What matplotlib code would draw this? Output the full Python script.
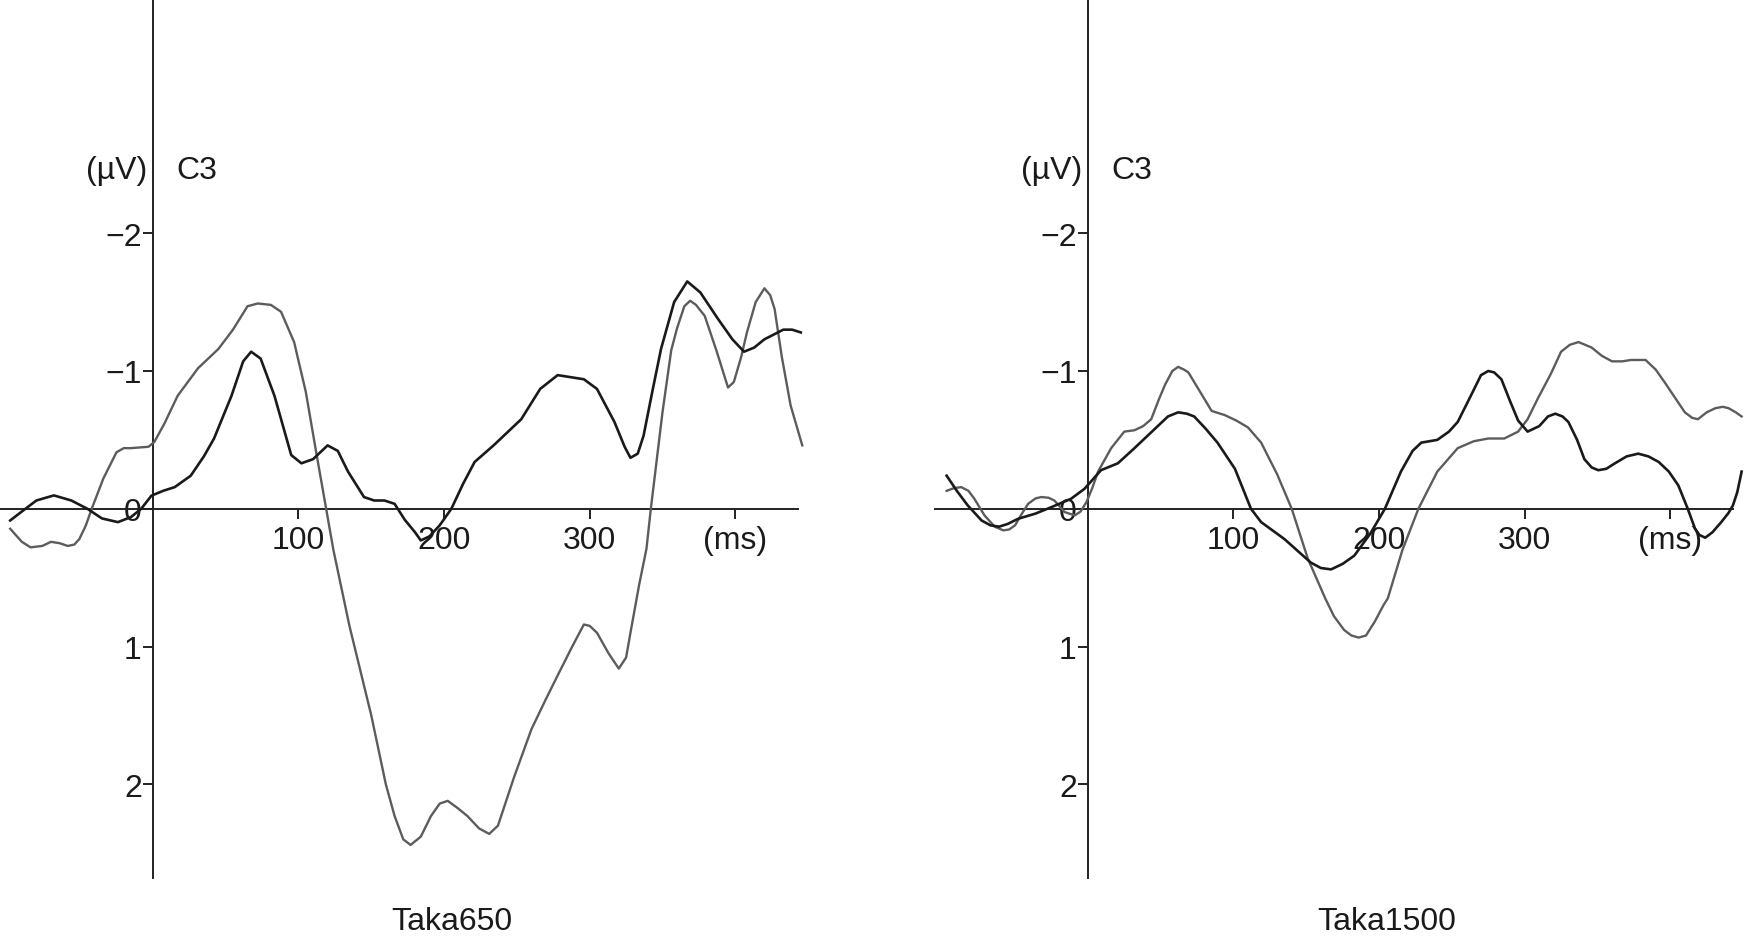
import matplotlib
matplotlib.use("Agg")
import matplotlib.pyplot as plt
import matplotlib.transforms as mtransforms

plt.rcParams['font.family'] = ['Liberation Sans Narrow', 'Liberation Sans', 'DejaVu Sans']

# ---- data (time in ms, amplitude in µV) ----
t650_black = [-98, -90, -80, -68, -56, -45, -35, -24, -15, -8, -1, 7, 15, 26, 35, 42, 54, 62, 67.5, 74,
              83.5, 95, 102, 110, 120, 127, 134, 145, 152, 159, 166, 173, 180, 184, 190, 197, 205, 213,
              221, 234, 253, 266, 278, 296, 305, 317, 324, 328, 333, 337, 343, 349, 358, 367, 376, 388,
              398, 406, 413, 420, 433, 439, 445]
v650_black = [0.085, 0.02, -0.06, -0.097, -0.06, 0.0, 0.07, 0.097, 0.06, 0.0, -0.095, -0.13, -0.157, -0.24,
              -0.38, -0.51, -0.82, -1.07, -1.14, -1.09, -0.82, -0.39, -0.33, -0.36, -0.46, -0.42, -0.27,
              -0.085, -0.06, -0.06, -0.036, 0.08, 0.17, 0.23, 0.2, 0.12, 0.0, -0.18, -0.34, -0.46, -0.65,
              -0.87, -0.97, -0.94, -0.87, -0.63, -0.45, -0.37, -0.40, -0.53, -0.85, -1.16, -1.50, -1.65,
              -1.57, -1.38, -1.23, -1.14, -1.17, -1.23, -1.30, -1.30, -1.28]

t650_gray = [-98, -90, -84, -76, -70, -64, -58.5, -54, -50.5, -46, -42, -34, -25, -20, -15, -3, 1, 8, 17,
             31, 45, 55, 65, 72, 81, 88, 97, 105, 112, 119, 124, 135, 150, 160, 166, 172, 177, 184, 191,
             197, 202.5, 209, 216, 224, 231, 237, 248, 260, 270, 278, 288, 296, 300, 305, 313, 320, 325,
             328, 334, 339, 342, 350, 356, 360, 365, 369, 373, 379, 387, 395, 399, 404, 408, 414, 420,
             424, 427, 432, 438, 446]
v650_gray = [0.145, 0.24, 0.28, 0.27, 0.24, 0.25, 0.27, 0.26, 0.22, 0.12, 0.0, -0.22, -0.41, -0.44, -0.44,
             -0.45, -0.485, -0.62, -0.82, -1.02, -1.16, -1.30, -1.47, -1.49, -1.48, -1.43, -1.21, -0.85,
             -0.42, 0.0, 0.3, 0.85, 1.5, 2.0, 2.23, 2.40, 2.44, 2.38, 2.23, 2.14, 2.12, 2.17, 2.23, 2.32,
             2.36, 2.30, 1.95, 1.60, 1.38, 1.21, 1.0, 0.84, 0.85, 0.90, 1.05, 1.16, 1.08, 0.90, 0.55, 0.29,
             0.0, -0.7, -1.15, -1.31, -1.47, -1.51, -1.48, -1.40, -1.15, -0.88, -0.92, -1.1, -1.28, -1.50,
             -1.60, -1.55, -1.45, -1.1, -0.75, -0.46]

t1500_black = [-97, -90, -82.5, -73, -67, -61, -55, -48, -36, -25, -11.5, -2.3, 9, 20.6, 32, 48, 55, 62,
               68, 73, 81, 89, 101, 112, 119, 135, 153, 160, 167, 175, 183, 194, 204, 215, 223, 229, 240,
               248, 254, 263, 270, 275, 279, 284, 290, 295.5, 302, 310, 316, 321, 326, 330, 336, 341, 346,
               350.5, 356, 362, 370, 378, 385, 392, 399, 405.5, 412, 417, 420, 424, 429, 435, 440, 443,
               446, 449]
v1500_black = [-0.24, -0.13, -0.024, 0.085, 0.12, 0.13, 0.11, 0.073, 0.035, -0.012, -0.073, -0.145, -0.28,
               -0.33, -0.44, -0.60, -0.67, -0.70, -0.69, -0.67, -0.58, -0.48, -0.29, 0.0, 0.097, 0.22, 0.39,
               0.43, 0.44, 0.40, 0.34, 0.18, 0.0, -0.27, -0.42, -0.48, -0.50, -0.56, -0.63, -0.82, -0.97,
               -1.00, -0.99, -0.94, -0.78, -0.64, -0.56, -0.60, -0.67, -0.69, -0.67, -0.63, -0.50, -0.36,
               -0.30, -0.28, -0.29, -0.33, -0.38, -0.40, -0.38, -0.34, -0.27, -0.17, 0.0, 0.145, 0.19, 0.21,
               0.17, 0.097, 0.03, -0.024, -0.12, -0.27]

t1500_gray = [-97, -92, -87, -82, -78, -71, -64, -58, -54, -50, -45, -41, -36, -32, -27, -23, -16, -9, -5,
              -1, 3, 7, 16, 25, 32, 38, 43.5, 49, 53, 58, 62, 66, 69, 77, 85, 94, 102, 110, 119, 130, 140,
              151, 163, 169, 176, 181, 186, 191, 197, 203, 206, 216, 227, 240, 254, 265, 275, 286, 295.5,
              302, 309, 318, 325, 331, 337, 346, 353, 360, 367, 373, 383, 390, 396, 403, 410, 415, 419,
              425, 431, 436, 440, 445, 449]
v1500_gray = [-0.13, -0.15, -0.157, -0.13, -0.073, 0.048, 0.13, 0.157, 0.15, 0.12, 0.03, -0.036, -0.075,
              -0.085, -0.08, -0.06, 0.024, 0.048, 0.02, -0.048, -0.15, -0.27, -0.44, -0.56, -0.57, -0.60,
              -0.65, -0.80, -0.90, -1.0, -1.03, -1.01, -0.99, -0.85, -0.71, -0.68, -0.64, -0.59, -0.48,
              -0.25, 0.0, 0.36, 0.65, 0.78, 0.88, 0.92, 0.935, 0.92, 0.82, 0.70, 0.65, 0.30, 0.0, -0.27,
              -0.44, -0.49, -0.51, -0.51, -0.56, -0.65, -0.80, -0.98, -1.14, -1.19, -1.21, -1.17, -1.11,
              -1.07, -1.07, -1.08, -1.08, -1.01, -0.92, -0.81, -0.70, -0.66, -0.65, -0.70, -0.73, -0.74,
              -0.73, -0.70, -0.67]

panels = [
    ("Taka650", t650_black, v650_black, t650_gray, v650_gray),
    ("Taka1500", t1500_black, v1500_black, t1500_gray, v1500_gray),
]

yticks = [-2, -1, 0, 1, 2]
ytick_labels = ["\u22122", "\u22121", "0", "1", "2"]
xticks = [100, 200, 300, 400]
xtick_labels = ["100", "200", "300", "(ms)"]

W, H = 1745, 937
fig = plt.figure(figsize=(W / 100, H / 100), dpi=100)

xlim = (-105, 452)
ylim = (2.68, -3.70)
ax_w = 811 / W
ax_b = 1 - 879 / H
lefts = [0 / W, 935 / W]

for (title, tb, vb, tg, vg), left in zip(panels, lefts):
    ax = fig.add_axes([left, ax_b, ax_w, 1 - ax_b])
    ax.set_xlim(*xlim)
    ax.set_ylim(*ylim)
    ax.patch.set_alpha(0)

    ax.plot(tg, vg, color="#5c5c5c", lw=1.7, solid_joinstyle="round", zorder=3)
    ax.plot(tb, vb, color="#1a1a1a", lw=1.9, solid_joinstyle="round", zorder=4)

    for s in ("top", "right"):
        ax.spines[s].set_visible(False)
    ax.spines["left"].set_position(("data", 0))
    ax.spines["bottom"].set_position(("data", 0))
    ax.spines["bottom"].set_bounds(xlim[0], 443)
    for s in ("left", "bottom"):
        ax.spines[s].set_linewidth(1.4)
        ax.spines[s].set_color("#222222")

    ax.set_yticks(yticks)
    ax.set_yticklabels(ytick_labels)
    ax.set_xticks(xticks)
    ax.set_xticklabels(xtick_labels)
    ax.tick_params(axis="both", direction="out", length=7, width=1.4, color="#222222",
                   labelsize=23, labelcolor="#1a1a1a")
    ax.tick_params(axis="y", pad=1)
    ax.tick_params(axis="x", pad=5)

    ax.text(-4, -2.46, "(\u00b5V)", ha="right", va="center", fontsize=23, color="#1a1a1a")
    ax.text(16, -2.46, "C3", ha="left", va="center", fontsize=23, color="#1a1a1a")

    trans = mtransforms.blended_transform_factory(ax.transData, fig.transFigure)
    ax.text(205, 7 / H, title, ha="center", va="baseline", fontsize=23,
            color="#1a1a1a", transform=trans)

fig.savefig("out.png", dpi=100)
